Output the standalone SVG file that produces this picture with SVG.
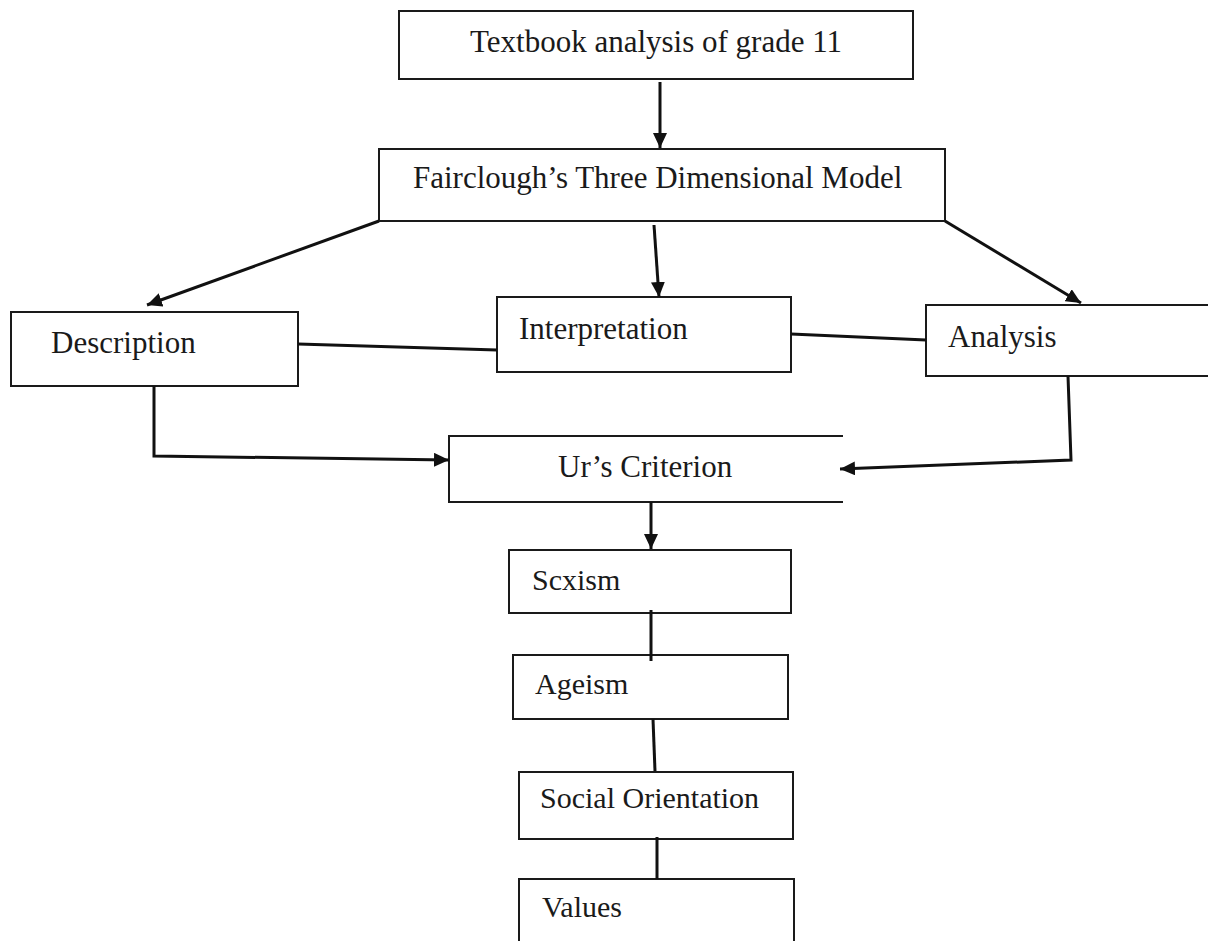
<svg xmlns="http://www.w3.org/2000/svg" width="1208" height="941" viewBox="0 0 1208 941">
<style>
.box{fill:#fff;stroke:#1a1a1a;stroke-width:2}
.lbl{font-family:"Liberation Serif","Times New Roman",serif;font-size:31px;fill:#1a1a1a}
.sm{font-size:30px}
.con{fill:none;stroke:#111;stroke-width:3}
</style>
<defs>
<marker id="ah" markerUnits="userSpaceOnUse" markerWidth="16" markerHeight="14" refX="15" refY="7" orient="auto">
<path d="M0,0 L15,7 L0,14 z" fill="#111"/>
</marker>
</defs>
<rect width="1208" height="941" fill="#fff"/>
<g id="n-textbook"><rect class="box" x="399" y="11" width="514" height="68"/><text class="lbl" x="470" y="52">Textbook analysis of grade 11</text></g>
<g id="n-fairclough"><rect class="box" x="379" y="149" width="566" height="72"/><text class="lbl" x="413" y="188">Fairclough’s Three Dimensional Model</text></g>
<g id="n-description"><rect class="box" x="11" y="312" width="287" height="74"/><text class="lbl" x="51" y="353">Description</text></g>
<g id="n-interpretation"><rect class="box" x="497" y="297" width="294" height="75"/><text class="lbl" x="519" y="339">Interpretation</text></g>
<g id="n-analysis"><rect class="box" x="926" y="305" width="290" height="71"/><text class="lbl" x="948" y="347">Analysis</text></g>
<g id="n-ur"><path class="box" d="M843,436 H449 V502 H843" fill="#fff"/><text class="lbl" x="558" y="477">Ur’s Criterion</text></g>
<g id="n-sexism"><rect class="box" x="509" y="550" width="282" height="63"/><text class="lbl sm" x="532" y="590">Scxism</text></g>
<g id="n-ageism"><rect class="box" x="513" y="655" width="275" height="64"/><text class="lbl sm" x="535" y="694">Ageism</text></g>
<g id="n-social"><rect class="box" x="519" y="772" width="274" height="67"/><text class="lbl sm" x="540" y="808">Social Orientation</text></g>
<g id="n-values"><rect class="box" x="519" y="879" width="275" height="70"/><text class="lbl sm" x="542" y="917">Values</text></g>
<g id="connectors">
<line class="con" x1="660" y1="82" x2="660" y2="148" marker-end="url(#ah)"/>
<line class="con" x1="379" y1="221" x2="147" y2="305" marker-end="url(#ah)"/>
<line class="con" x1="654" y1="225" x2="659" y2="297" marker-end="url(#ah)"/>
<line class="con" x1="945" y1="221" x2="1081" y2="303" marker-end="url(#ah)"/>
<line class="con" x1="298" y1="344" x2="497" y2="350"/>
<line class="con" x1="791" y1="334" x2="926" y2="340"/>
<polyline class="con" points="154,386 154,456 449,460" marker-end="url(#ah)"/>
<polyline class="con" points="1068,376 1071,460 840,469" marker-end="url(#ah)"/>
<line class="con" x1="651" y1="502" x2="651" y2="549" marker-end="url(#ah)"/>
<line class="con" x1="651" y1="610" x2="651" y2="661"/>
<line class="con" x1="653" y1="719" x2="655" y2="771"/>
<line class="con" x1="657" y1="837" x2="657" y2="879"/>
</g>
</svg>
